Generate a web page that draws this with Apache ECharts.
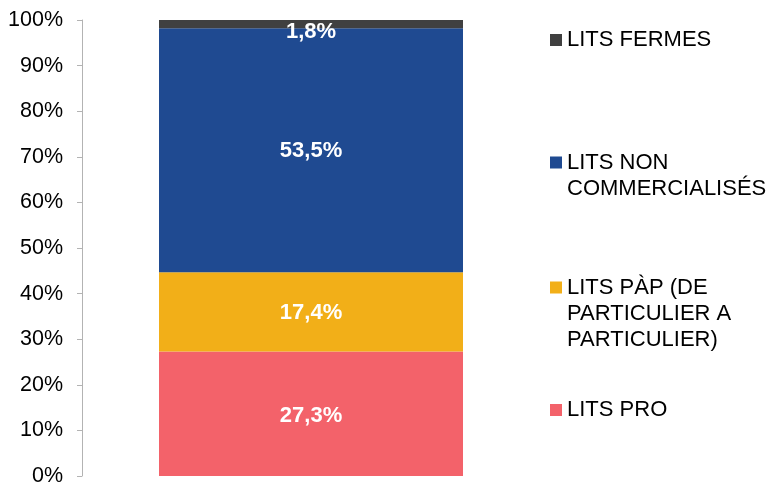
<!DOCTYPE html>
<html>
<head>
<meta charset="utf-8">
<script src="https://cdn.jsdelivr.net/npm/echarts@6/dist/echarts.min.js"></script>
<style>html,body{margin:0;padding:0;background:#fff;overflow:hidden}#c{width:773px;height:484px}</style>
</head>
<body>
<div id="c"></div>
<script>
var categories = [''];
var seriesNames = ['LITS PRO', 'LITS PÀP (DE PARTICULIER A PARTICULIER)', 'LITS NON COMMERCIALISÉS', 'LITS FERMES'];
var legendLines = [['LITS PRO'], ['LITS PÀP (DE', 'PARTICULIER A', 'PARTICULIER)'], ['LITS NON', 'COMMERCIALISÉS'], ['LITS FERMES']];
var litsPro = [27.3];
var litsPap = [17.4];
var litsNonCommercialises = [53.5];
var litsFermes = [1.8];
var yTicks = [0, 10, 20, 30, 40, 50, 60, 70, 80, 90, 100];

var colors = ['#F3626A', '#F2AF18', '#1F4A91', '#404040'];
var values = [litsPro, litsPap, litsNonCommercialises, litsFermes];
var labelOffsets = [[0, 2], [0, 1], [0, 1], [0, 8]];
var legendCenters = [410, 287.5, 162.5, 40];
var LH = 26;

var series = seriesNames.map(function (n, i) {
  return {
    name: n, type: 'bar', stack: 'total', barWidth: 304,
    data: values[i],
    itemStyle: { color: colors[i] },
    label: {
      show: true, position: 'inside', offset: labelOffsets[i],
      color: '#fff', fontFamily: 'Liberation Sans, Arial, sans-serif',
      fontWeight: 'bold', fontSize: 22,
      formatter: function (p) { return p.value.toFixed(1).replace('.', ',') + '%'; }
    }
  };
});

var legends = seriesNames.map(function (n, i) {
  var lines = legendLines[i];
  var k = lines.length;
  var padded = [];
  for (var j = 0; j < k - 1; j++) padded.push(' ');
  padded = padded.concat(lines);
  var blockH = LH * (2 * k - 1);
  return {
    data: [n], left: 550, top: legendCenters[i] - blockH / 2,
    padding: 0, icon: 'rect', itemWidth: 12, itemHeight: 12,
    selectedMode: false,
    formatter: function () { return padded.join('\n'); },
    textStyle: {
      fontFamily: 'Liberation Sans, Arial, sans-serif', fontSize: 22,
      color: '#000', lineHeight: LH
    }
  };
});

var chart = echarts.init(document.getElementById('c'));
chart.setOption({
  animation: false,
  grid: { left: 82, right: 233, top: 20, bottom: 8, containLabel: false, outerBoundsMode: 'none' },
  legend: legends,
  xAxis: {
    type: 'category', data: categories,
    axisLine: { show: false }, axisTick: { show: false }, axisLabel: { show: false }
  },
  yAxis: {
    type: 'value', min: yTicks[0], max: yTicks[yTicks.length - 1], interval: 10,
    axisLine: { show: true, lineStyle: { color: '#b3b3b3', width: 1 } },
    axisTick: { show: true, length: 5, lineStyle: { color: '#b3b3b3' } },
    splitLine: { show: false },
    axisLabel: {
      margin: 19, color: '#000', fontSize: 21.5,
      fontFamily: 'Liberation Sans, Arial, sans-serif',
      formatter: function (v) { return v + '%'; }
    }
  },
  series: series
});
</script>
</body>
</html>
